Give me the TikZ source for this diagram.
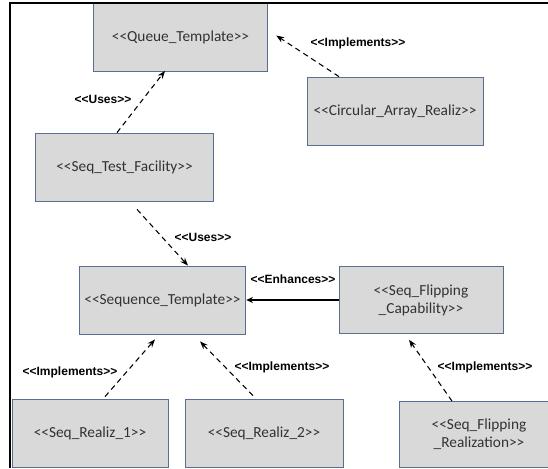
\documentclass[tikz,border=0pt]{standalone}
\usepackage{fontspec}
\newfontfamily\boxfont{Carlito}[Ligatures=TeXOff]
\newfontfamily\tagfont{Liberation Sans}[Ligatures=TeXOff]
\usetikzlibrary{arrows.meta,calc}
\definecolor{boxfill}{RGB}{217,217,217}
\definecolor{boxline}{RGB}{90,110,145}
\definecolor{boxtext}{RGB}{50,50,50}

\begin{document}
\begin{tikzpicture}[x=0.75pt,y=-0.75pt,
  cls/.style={draw=boxline,fill=boxfill,line width=0.6pt,minimum height=51pt,
    inner sep=2pt,align=center,text=boxtext,
    font=\boxfont\fontsize{11.5}{13.5}\selectfont},
  tag/.style={font=\tagfont\bfseries\fontsize{9}{10}\selectfont,inner sep=0pt},
  dep/.style={line width=0.8pt,dash pattern=on 4pt off 3pt,
    -{Stealth[length=6pt,width=4.5pt]}},
  enh/.style={line width=1.1pt,-{Stealth[length=5pt,width=4.5pt]}}]
  \useasboundingbox (0,0) rectangle (548,468);

  % classes
  \node[cls,minimum width=131pt] (queue) at (180.5,37.5) {<<Queue\_Template>>};
  \node[cls,minimum width=132pt] (circ) at (395,111) {<<Circular\_Array\_Realiz>>};
  \node[cls,minimum width=133pt] (test) at (124.5,167) {<<Seq\_Test\_Facility>>};
  \node[cls,minimum width=125pt] (seqt) at (162.5,300) {<<Sequence\_Template>>};
  \node[cls,minimum width=123pt,minimum height=50pt] (flipcap) at (421,300)
    {<<Seq\_Flipping\\\_Capability>>};
  \node[cls,minimum width=117pt] (real1) at (90,433) {<<Seq\_Realiz\_1>>};
  \node[cls,minimum width=118.5pt] (real2) at (264,433) {<<Seq\_Realiz\_2>>};
  \node[cls,minimum width=120pt,minimum height=49.5pt] (fliprl) at (479,434.5)
    {<<Seq\_Flipping\\\_Realization>>};

  % relations
  \draw[dep] ($(circ.north)+(-56,0)$) -- ($(queue.east)+(8,-2)$);
  \draw[dep] ($(test.north)+(-7.5,0)$) -- ($(queue.south)+(-15.5,-1)$);
  \draw[dep] ($(test.south)+(12.5,8)$) -- (seqt.north -| 188,0);
  \draw[enh] (flipcap.west) -- (seqt.east);
  \draw[dep] ($(real1.north)+(15,-2)$) -- ($(seqt.south)+(-7.5,5)$);
  \draw[dep] ($(real2.north)+(-11,-3)$) -- ($(seqt.south)+(37.5,7)$);
  \draw[dep] ($(fliprl.north)+(-27,0)$) -- ($(flipcap.south)+(-12,6)$);

  \node[tag] (t1) at (358,43)  {<<Implements>>};
  \node[tag] (t2) at (103,99)  {<<Uses>>};
  \node[tag] (t3) at (203,237) {<<Uses>>};
  \node[tag] (t4) at (293,279) {<<Enhances>>};
  \node[tag] (t5) at (70,372)  {<<Implements>>};
  \node[tag] (t6) at (282,367) {<<Implements>>};
  \node[tag] (t7) at (485,367) {<<Implements>>};

  % frame
  \draw[line width=1.5pt] (10,468) -- (10,3) -- (548,3);
\end{tikzpicture}
\end{document}
